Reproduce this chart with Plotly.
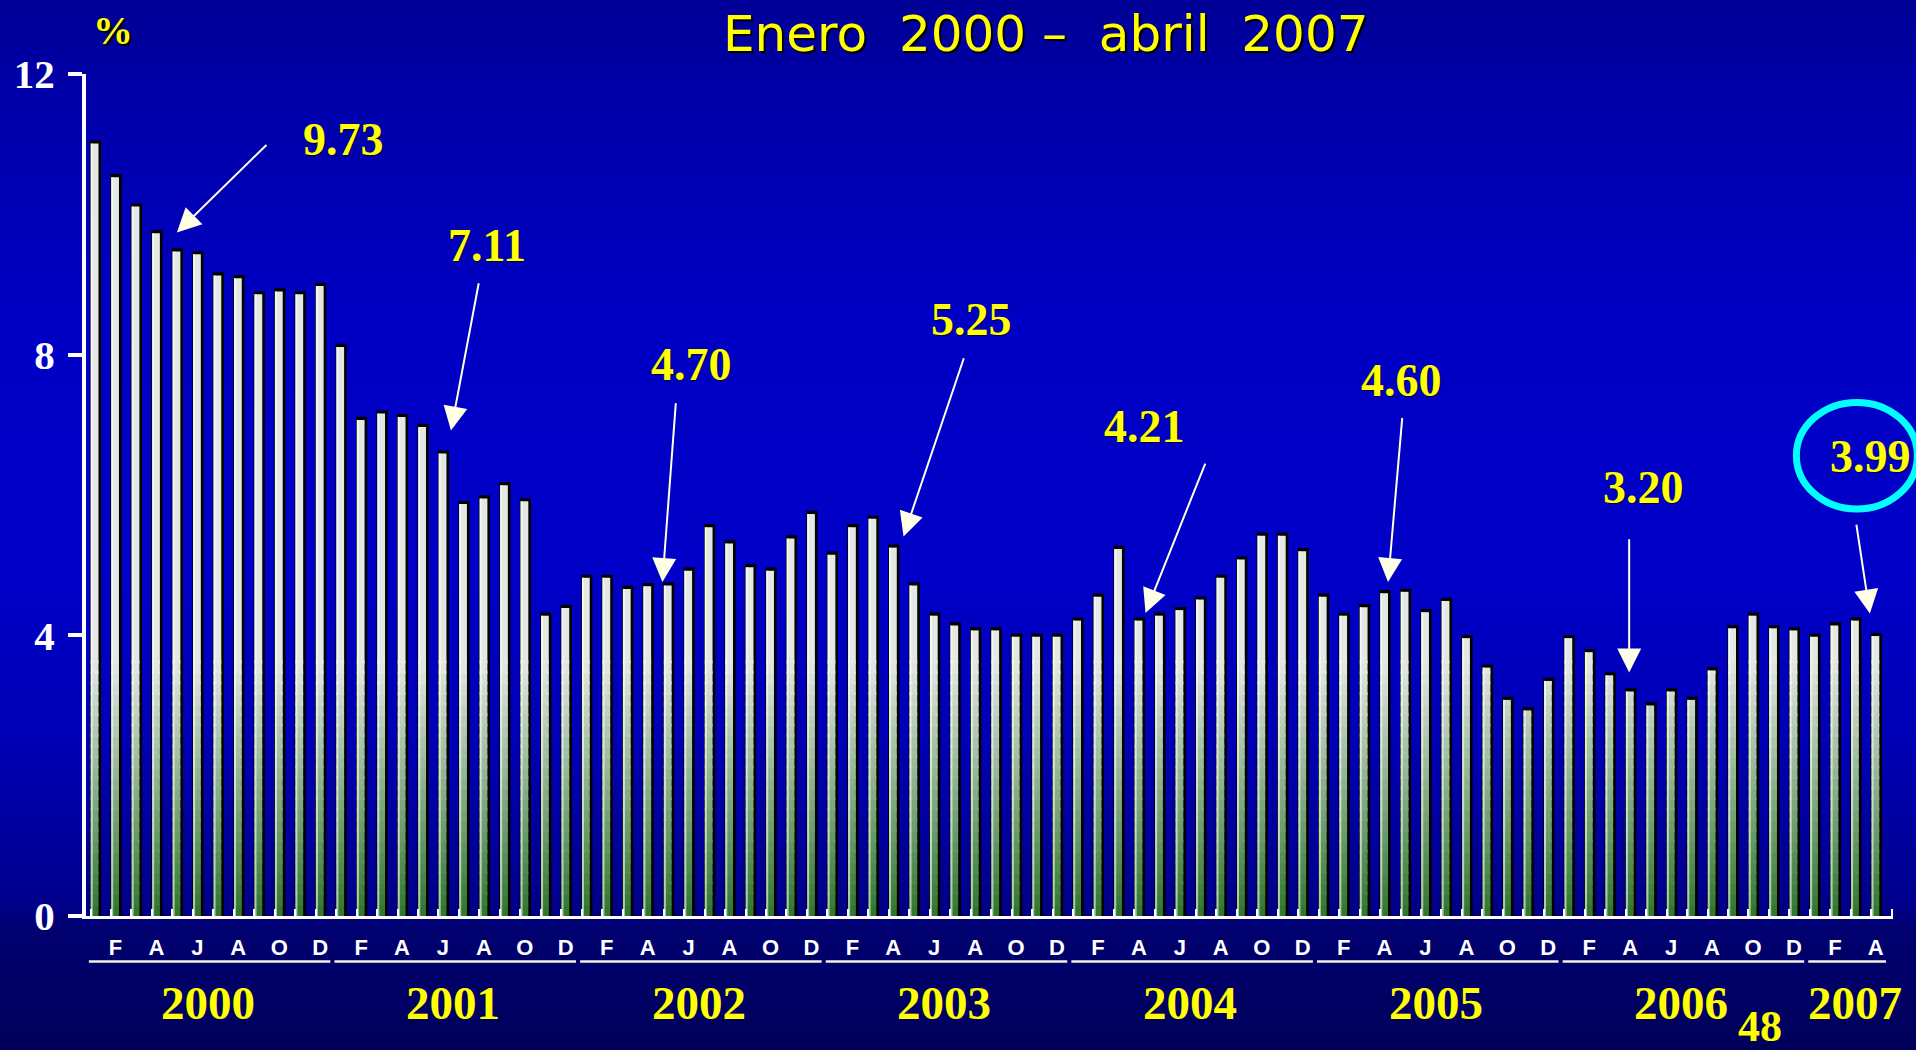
import base64
import plotly.graph_objects as go

# ---------------- data (percent, monthly, Jan 2000 - Apr 2007) ----------------
v2000 = [11.01, 10.53, 10.11, 9.73, 9.47, 9.43, 9.13, 9.09, 8.86, 8.90, 8.86, 8.98]
v2001 = [8.11, 7.07, 7.16, 7.11, 6.97, 6.59, 5.87, 5.95, 6.14, 5.91, 4.28, 4.39]
v2002 = [4.82, 4.82, 4.66, 4.70, 4.71, 4.92, 5.54, 5.31, 4.97, 4.92, 5.38, 5.73]
v2003 = [5.15, 5.54, 5.66, 5.25, 4.71, 4.28, 4.14, 4.07, 4.07, 3.98, 3.98, 3.98]
v2004 = [4.21, 4.55, 5.23, 4.21, 4.28, 4.36, 4.51, 4.82, 5.08, 5.42, 5.42, 5.20]
v2005 = [4.55, 4.28, 4.40, 4.60, 4.62, 4.33, 4.49, 3.96, 3.54, 3.08, 2.93, 3.35]
v2006 = [3.96, 3.76, 3.43, 3.20, 3.00, 3.20, 3.08, 3.50, 4.10, 4.28, 4.10, 4.07]
v2007 = [3.98, 4.14, 4.21, 3.99]

years = ["2000", "2001", "2002", "2003", "2004", "2005", "2006", "2007"]
year_values = [v2000, v2001, v2002, v2003, v2004, v2005, v2006, v2007]
month_letters = ["", "F", "", "A", "", "J", "", "A", "", "O", "", "D"]

y_ticks = [0, 4, 8, 12]

# callouts: label text, label position, arrow tail, arrow tip (data coords)
callout_text = ["9.73", "7.11", "4.70", "5.25", "4.21", "4.60", "3.20", "3.99"]
callout_label_xy = [(12.13, 11.06), (19.13, 9.56), (29.15, 7.86), (42.83, 8.50),
                    (51.28, 6.98), (63.82, 7.63), (75.67, 6.10), (86.76, 6.55)]
callout_tail_xy = [(8.45, 11.01), (18.76, 9.04), (28.38, 7.33), (42.47, 7.97),
                   (54.27, 6.47), (63.87, 7.12), (74.95, 5.39), (86.04, 5.60)]
callout_tip_xy = [(4.00, 9.74), (17.39, 6.92), (27.72, 4.76), (39.50, 5.41),
                  (51.32, 4.32), (63.17, 4.76), (74.95, 3.47), (86.71, 4.31)]

title_text = "Enero\u00a0\u00a02000\u00a0–\u00a0\u00a0abril\u00a0\u00a02007"
page_number = "48"

# ---------------- derived ----------------
values = [v for yv in year_values for v in yv]
n = len(values)
idx = list(range(n))

W, H = 1916, 1050
ML, MR, MT, MB = 86, 23, 74, 134
XMIN, XMAX = -0.44, 87.84
YMIN, YMAX = 0, 12


def xpaper(xd):
    return (xd - XMIN) / (XMAX - XMIN)


def ypaper(yd):
    return (yd - YMIN) / (YMAX - YMIN)


fig = go.Figure()

BAR_W = 0.38
BAR_OFF = -0.21

# black outline / shadow (thin left, thicker right and top)
fig.add_bar(x=idx, y=[v + 0.045 for v in values], width=BAR_W + 0.17, offset=BAR_OFF - 0.04,
            marker=dict(color="#000000", line=dict(width=0)), hoverinfo="skip")

# vertical gradient (green bottom -> light grey) built from overlapping bands
n_bands = 24
band_h = 0.15
c0 = (46, 118, 46)
c1 = (226, 232, 226)
for k in range(n_bands):
    lo = k * band_h
    hts = [max(0.0, min(v, lo + band_h + 0.04) - lo) for v in values]
    t = (k + 0.5) / n_bands
    col = "rgb(%d,%d,%d)" % tuple(round(a + (b - a) * t) for a, b in zip(c0, c1))
    fig.add_bar(x=idx, y=hts, base=[lo] * n, width=BAR_W, offset=BAR_OFF,
                marker=dict(color=col, line=dict(width=0)), hoverinfo="skip")
top = n_bands * band_h
fig.add_bar(x=idx, y=[max(0.0, v - top) for v in values], base=[top] * n,
            width=BAR_W, offset=BAR_OFF,
            marker=dict(color="rgb(%d,%d,%d)" % c1, line=dict(width=0)), hoverinfo="skip")
# left highlight
fig.add_bar(x=idx, y=values, width=0.1, offset=BAR_OFF,
            marker=dict(color="rgba(255,255,255,0.6)", line=dict(width=0)), hoverinfo="skip")

# ---------------- background gradient ----------------
svg = ('<svg xmlns="http://www.w3.org/2000/svg" width="100" height="1050" viewBox="0 0 100 1050" '
       'preserveAspectRatio="none"><defs><linearGradient id="g" x1="0" y1="0" x2="0" y2="1">'
       '<stop offset="0" stop-color="#000096"/>'
       '<stop offset="0.10" stop-color="#0000aa"/>'
       '<stop offset="0.30" stop-color="#0000c4"/>'
       '<stop offset="0.55" stop-color="#0000c8"/>'
       '<stop offset="0.70" stop-color="#0000b6"/>'
       '<stop offset="0.86" stop-color="#00008c"/>'
       '<stop offset="0.885" stop-color="#000070"/>'
       '<stop offset="1" stop-color="#00005a"/>'
       '</linearGradient></defs><rect width="100" height="1050" fill="url(#g)"/></svg>')
bg_src = "data:image/svg+xml;base64," + base64.b64encode(svg.encode()).decode()
pw = W - ML - MR
ph = H - MT - MB

ann = []
# title
ann.append(dict(text=title_text, xref="paper", yref="paper",
                x=(1046 - ML) / pw, y=1 + (MT - 34) / ph, xanchor="center", yanchor="middle",
                showarrow=False,
                font=dict(family="DejaVu Sans", size=50, color="#ffff00",
                          shadow="2px 2px 1px #000000")))
# percent sign
ann.append(dict(text="%", xref="paper", yref="paper", x=(113 - ML) / pw, y=1 + (MT - 31) / ph,
                xanchor="center", yanchor="middle", showarrow=False,
                font=dict(family="Liberation Serif", size=40, color="#ffff00", weight="bold",
                          shadow="2px 2px 1px #000000")))
# callouts
for txt, (lx, ly), (tx, ty), (px, py) in zip(callout_text, callout_label_xy,
                                             callout_tail_xy, callout_tip_xy):
    ann.append(dict(text=txt, x=lx, y=ly, xref="x", yref="y", showarrow=False,
                    xanchor="center", yanchor="middle",
                    font=dict(family="Liberation Serif", size=46, color="#ffff00", weight="bold",
                              shadow="1px 1px 1px rgba(0,0,0,0.6)")))
    ann.append(dict(text="", x=px, y=py, ax=tx, ay=ty, xref="x", yref="y",
                    axref="x", ayref="y", showarrow=True, arrowhead=2, arrowsize=2.4,
                    arrowwidth=2, arrowcolor="#ffffe6", standoff=0))
# year labels
for k, (yr, yv) in enumerate(zip(years, year_values)):
    first = 12 * k
    last = first + len(yv) - 1
    cx = (first + last) / 2 if len(yv) == 12 else (first + last) / 2 + 0.5
    ann.append(dict(text=yr, x=cx, y=(915.5 - 1002) / ph, xref="x", yref="paper",
                    showarrow=False, xanchor="center", yanchor="middle",
                    font=dict(family="Liberation Serif", size=47, color="#ffff00", weight="bold")))
# page number
ann.append(dict(text=page_number, x=(1760 - ML) / pw, y=(915.5 - 1026) / ph, xref="paper",
                yref="paper", showarrow=False, xanchor="center", yanchor="middle",
                font=dict(family="Liberation Serif", size=44, color="#ffff00", weight="bold")))

shapes = []
# year underline bars
for k, yv in enumerate(year_values):
    first = 12 * k
    last = first + len(yv) - 1
    shapes.append(dict(type="line", xref="paper", yref="paper",
                       x0=xpaper(first - 0.3), x1=xpaper(last + 0.5),
                       y0=(915.5 - 961) / ph, y1=(915.5 - 961) / ph,
                       line=dict(color="#f0f0e0", width=2.5)))
# cyan ellipse around last callout
shapes.append(dict(type="circle", xref="paper", yref="paper",
                   x0=xpaper(83.12), x1=xpaper(89.03), y0=ypaper(5.80), y1=ypaper(7.32),
                   line=dict(color="#00ffff", width=7)))

tickvals, ticktext = [], []
for k, yv in enumerate(year_values):
    for m in range(len(yv)):
        if month_letters[m]:
            tickvals.append(12 * k + m)
            ticktext.append(month_letters[m])

fig.update_layout(
    width=W, height=H,
    margin=dict(l=ML, r=MR, t=MT, b=MB, pad=0, autoexpand=False),
    paper_bgcolor="#000070",
    plot_bgcolor="rgba(0,0,0,0)",
    barmode="overlay",
    showlegend=False,
    annotations=ann,
    shapes=shapes,
    images=[dict(source=bg_src, xref="paper", yref="paper",
                 x=-ML / pw, y=1 + MT / ph, sizex=W / pw, sizey=H / ph,
                 xanchor="left", yanchor="top", sizing="stretch", layer="below")],
    xaxis=dict(range=[XMIN, XMAX], showgrid=False, zeroline=False, automargin=False,
               showline=True, linecolor="#ffffff", linewidth=3,
               tickmode="array", tickvals=tickvals, ticktext=ticktext, ticks="",
               ticklabelstandoff=10,
               tickfont=dict(family="Liberation Sans", size=22, color="#ffffff", weight="bold"),
               minor=dict(tick0=0.78, dtick=1, ticks="inside", ticklen=7, tickwidth=2,
                          tickcolor="#ffffff", showgrid=False)),
    yaxis=dict(range=[YMIN, YMAX], showgrid=False, zeroline=False, automargin=False,
               showline=True, linecolor="#ffffff", linewidth=4,
               tickmode="array", tickvals=y_ticks, ticktext=[str(t) for t in y_ticks],
               ticks="outside", ticklen=14, tickwidth=4, tickcolor="#ffffff",
               ticklabelstandoff=5,
               tickfont=dict(family="Liberation Serif", size=41, color="#ffffff", weight="bold")),
)

fig.write_html("out.html", config={"displayModeBar": False},
               post_script="document.body.style.margin='0';document.body.style.overflow='hidden';")
